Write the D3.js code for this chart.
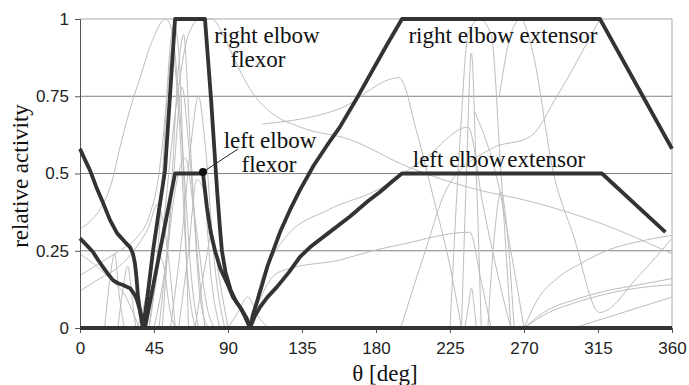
<!DOCTYPE html>
<html>
<head>
<meta charset="utf-8">
<script src="https://cdn.jsdelivr.net/npm/d3@7"></script>
<style>
  body { margin: 0; background: #fff; }
  svg { display: block; }
  .tick text { font-family: "Liberation Sans", Arial, sans-serif; font-size: 17px; fill: #222; }
  .lbl { font-family: "Liberation Serif", "Times New Roman", serif; fill: #111; }
</style>
</head>
<body>
<div id="chart"></div>
<script>
// angle in deg, relative activity
var xTicks = [0, 45, 90, 135, 180, 225, 270, 315, 360];
var yTicks = [0, 0.25, 0.5, 0.75, 1];

var rightFlexor = [[0,0],[38.3,0],[41,0.1],[44.4,0.25],[48,0.38],[51.7,0.51],[54.7,0.75],[57.8,1],[76,1],[79.7,0.74],[83.3,0.45],[85,0.33],[86.3,0.25],[88.5,0.18],[91.8,0.12],[95,0.085],[98.5,0.058],[101.5,0.03],[103.4,0],[360,0]];
var leftFlexor = [[0,0],[39.5,0],[57.8,0.5],[74.8,0.5],[77.2,0.39],[79.5,0.31],[82.1,0.25],[85.5,0.19],[89.4,0.146],[93,0.1],[97.3,0.068],[100.5,0.035],[103.4,0],[360,0]];
var rightExtensor = [[0,0.58],[3,0.545],[6.1,0.51],[10,0.455],[14,0.405],[18.2,0.35],[22.5,0.307],[27.4,0.278],[30.4,0.262],[32.2,0.24],[33.4,0.21],[34.4,0.16],[35.3,0.1],[36.8,0.045],[38.3,0],[103.4,0],[105,0.04],[107,0.074],[109,0.11],[110.7,0.139],[114,0.2],[117.4,0.249],[122,0.315],[127.7,0.382],[133.8,0.447],[142,0.525],[152,0.605],[158,0.65],[168,0.74],[178,0.835],[187,0.92],[195.8,1],[316.2,1],[360,0.58]];
var leftExtensor = [[0,0.29],[4,0.268],[7.9,0.246],[11,0.22],[14,0.197],[17,0.175],[20,0.155],[23,0.145],[26.1,0.139],[30.4,0.129],[33,0.11],[34.7,0.09],[36.3,0.06],[37.7,0.03],[38.3,0],[103.4,0],[106,0.035],[109.5,0.068],[114,0.1],[119.8,0.133],[127,0.18],[133.8,0.23],[140,0.262],[150,0.303],[164,0.36],[175,0.41],[182.4,0.44],[190,0.475],[195.8,0.5],[317.4,0.5],[356,0.31]];

// thin grey traces of the other muscles
var otherMuscles = [
  [[0,0.32],[18,0.45],[25,0.6],[30,0.7],[36.5,0.81],[44,0.93],[52,1],[56,0.96],[60,0.75],[64,0.45],[68,0.15],[72,0]],
  [[42,0],[50,0.3],[58,0.7],[66,0.95],[73,1],[80,1],[87,0.95],[93,0.88],[105,0.76],[115.5,0.7],[134,0.65],[164,0.61],[200,0.52],[240,0.45],[273.6,0.41],[316,0.34],[360,0.24]],
  [[103,0],[110,0.1],[118,0.17],[126,0.19],[158,0.22],[178,0.25],[195,0.27],[237,0.31],[244,0.15],[250,0]],
  [[104,0],[110,0.15],[118,0.24],[126,0.3],[150,0.38],[182,0.45],[210,0.55],[236,0.65],[245,0.4],[255,0.15],[262,0]],
  [[111,0.66],[158,0.71],[194,0.81],[205,0.63],[215,0.42],[225,0.2],[232,0]],
  [[195,0],[210,0.25],[223,0.45],[250,0.58],[274,0.62],[290,0.75],[316,1]],
  [[255,0.75],[262,0.95],[268,1],[275,0.9],[288,0.5],[300,0.3],[316,0.05],[340,0.17],[360,0.29]],
  [[225,0],[231,0.6],[236,0.95],[243,1],[250,0.95],[256,0.5],[262,0]],
  [[232,0],[235,0.5],[238,0.89],[241,0.5],[244,0]],
  [[234,0],[236.5,0.08],[238,0.13],[239.5,0.08],[241,0]],
  [[248,0],[252,0.3],[256,0.44],[260,0.3],[264,0]],
  [[240,0.7],[255,0.45],[262,0.25],[270,0]],
  [[270,0],[278,0.09],[290,0.16],[305,0.21],[320,0.25],[340,0.28],[360,0.3]],
  [[270,0],[285,0.06],[300,0.09],[320,0.12],[340,0.14],[360,0.16]],
  [[270,0],[285,0.05],[300,0.08],[320,0.11],[340,0.13],[360,0.14]],
  [[300,0],[330,0.05],[360,0.1]],
  [[0,0.17],[12,0.21],[24,0.25],[34,0.29],[42,0.36],[48,0.5],[52,0.7],[55,0.92],[57,0.98],[60,0.9],[63,0.5],[66,0]],
  [[0,0.12],[12,0.16],[24,0.2],[34,0.26],[42,0.33],[47,0.4],[52,0.3],[58,0]],
  [[0,0.24],[10,0.2],[20,0.15],[28,0.1],[33,0.04],[36,0]],
  [[15,0],[18,0.15],[21,0.24],[24,0.1],[27,0]],
  [[23,0],[26,0.12],[29,0.2],[32,0.08],[34,0]],
  [[42,0],[48,0.3],[53,0.75],[56,0.9],[60,0.7],[65,0.2],[70,0]],
  [[48,0],[55,0.4],[60,0.85],[63,0.95],[67,0.6],[73,0.1],[78,0]],
  [[50,0],[57,0.5],[62,0.78],[66,0.6],[72,0.2],[76,0]],
  [[45,0],[52,0.2],[58,0.45],[64,0.55],[70,0.35],[78,0.05],[82,0]],
  [[55,0],[62,0.3],[68,0.62],[72,0.75],[76,0.6],[82,0.2],[88,0]],
  [[60,0],[66,0.25],[71,0.48],[75,0.45],[80,0.15],[85,0]],
  [[35,0],[40,0.1],[45,0.25],[50,0.22],[55,0.05],[58,0]],
  [[70,0],[76,0.2],[80,0.3],[85,0.15],[90,0]],
  [[90,0],[96,0.05],[102,0.1],[108,0.04],[115,0]]
];

var width = 689, height = 385;
var x = d3.scaleLinear().domain([0, 360]).range([80, 672]);
var y = d3.scaleLinear().domain([0, 1]).range([328, 19]);

var svg = d3.select("#chart").append("svg")
  .attr("width", width)
  .attr("height", height);

// grid
svg.append("g").selectAll("line")
  .data(yTicks.filter(function(d){ return d > 0; }))
  .enter().append("line")
  .attr("x1", x(0)).attr("x2", x(360))
  .attr("y1", function(d){ return y(d); })
  .attr("y2", function(d){ return y(d); })
  .style("stroke", function(d){ return d == 1 ? "#aaa" : "#808080"; })
  .style("stroke-width", 1.2);
svg.append("line")
  .attr("x1", x(360)).attr("x2", x(360))
  .attr("y1", y(1)).attr("y2", y(0))
  .style("stroke", "#aaa");

var thin = d3.line()
  .x(function(d){ return x(d[0]); })
  .y(function(d){ return y(d[1]); })
  .curve(d3.curveMonotoneX);
var thick = d3.line()
  .x(function(d){ return x(d[0]); })
  .y(function(d){ return y(d[1]); });

svg.append("g").selectAll("path")
  .data(otherMuscles)
  .enter().append("path")
  .attr("d", thin)
  .style("fill", "none")
  .style("stroke", "#bdbdbd")
  .style("stroke-width", 1);

// axes
var yAxis = d3.axisLeft(y).tickValues(yTicks).tickSize(5).tickPadding(6)
  .tickFormat(function(d){ return String(d); });
var gy = svg.append("g").attr("transform", "translate(80,0)").call(yAxis);
gy.select(".domain").style("stroke", "#555");
gy.selectAll(".tick line").style("stroke", "#555");

var xAxis = d3.axisBottom(x).tickValues(xTicks).tickSize(5).tickPadding(9);
var gx = svg.append("g").attr("transform", "translate(0,328)").call(xAxis);
gx.select(".domain").style("stroke", "#555");
gx.selectAll(".tick line").style("stroke", "#555");

svg.append("g").selectAll("path")
  .data([rightFlexor, leftFlexor, rightExtensor, leftExtensor])
  .enter().append("path")
  .attr("d", thick)
  .style("fill", "none")
  .style("stroke", "#333")
  .style("stroke-width", 3.8)
  .style("stroke-linejoin", "round");

// leader + dot for left elbow flexor
svg.append("line")
  .attr("x1", x(74.8)).attr("y1", y(0.505))
  .attr("x2", x(74.8) + 35).attr("y2", y(0.505) - 23)
  .style("stroke", "#222").style("stroke-width", 1);
svg.append("circle")
  .attr("cx", x(74.8)).attr("cy", y(0.505)).attr("r", 4)
  .style("fill", "#111");

var labels = [
  {t: "right elbow", x: 267, y: 43},
  {t: "flexor", x: 258, y: 67},
  {t: "left elbow", x: 270, y: 148},
  {t: "flexor", x: 269, y: 172},
  {t: "right elbow extensor", x: 503, y: 43},
  {t: "left elbow\u200Aextensor", x: 499, y: 167}
];
svg.append("g").selectAll("text")
  .data(labels)
  .enter().append("text")
  .attr("class", "lbl")
  .attr("x", function(d){ return d.x; })
  .attr("y", function(d){ return d.y; })
  .attr("text-anchor", "middle")
  .style("font-size", "23px")
  .text(function(d){ return d.t; });

svg.append("text")
  .attr("class", "lbl")
  .attr("x", 385).attr("y", 381)
  .attr("text-anchor", "middle")
  .style("font-size", "23px")
  .text("\u03b8 [deg]");

svg.append("text")
  .attr("class", "lbl")
  .attr("transform", "translate(28,176) rotate(-90)")
  .attr("text-anchor", "middle")
  .style("font-size", "23px")
  .text("relative activity");
</script>
</body>
</html>
